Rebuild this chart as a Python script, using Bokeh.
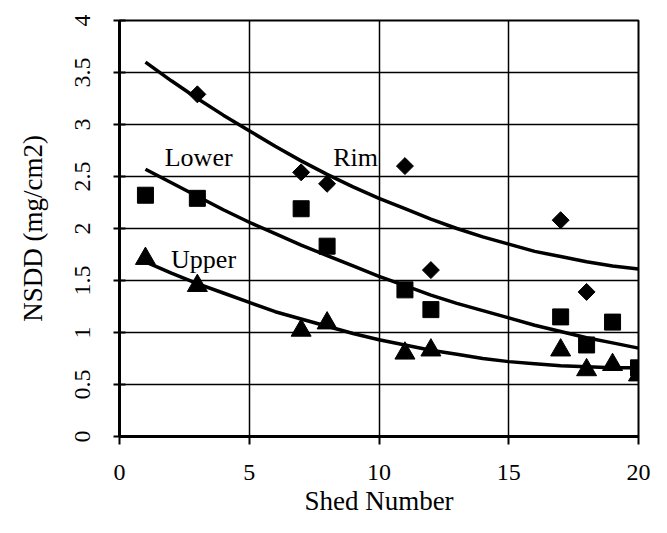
from bokeh.plotting import figure
from bokeh.models import Range1d, FixedTicker, NumeralTickFormatter, Label, Title
from bokeh.embed import file_html
from bokeh.resources import INLINE

# ---- data ----
shed_rim = [3, 7, 8, 11, 12, 17, 18]
rim = [3.29, 2.54, 2.43, 2.60, 1.60, 2.08, 1.39]

shed_lower = [1, 3, 7, 8, 11, 12, 17, 18, 19, 20]
lower = [2.32, 2.29, 2.19, 1.83, 1.41, 1.22, 1.15, 0.88, 1.10, 0.66]

shed_upper = [1, 3, 7, 8, 11, 12, 17, 18, 19, 20]
upper = [1.71, 1.45, 1.02, 1.09, 0.80, 0.83, 0.83, 0.64, 0.69, 0.59]

# trend curves (read at each shed number)
trend_x = list(range(1, 21))
rim_trend = [3.60, 3.42, 3.25, 3.09, 2.94, 2.79, 2.65, 2.52, 2.40, 2.29,
             2.19, 2.09, 2.00, 1.92, 1.85, 1.78, 1.73, 1.68, 1.64, 1.61]
lower_trend = [2.57, 2.44, 2.31, 2.18, 2.06, 1.95, 1.84, 1.74, 1.64, 1.54,
               1.45, 1.36, 1.28, 1.21, 1.14, 1.07, 1.01, 0.95, 0.90, 0.85]
upper_trend = [1.68, 1.57, 1.47, 1.38, 1.29, 1.20, 1.13, 1.06, 0.99, 0.93,
               0.88, 0.83, 0.79, 0.75, 0.72, 0.70, 0.68, 0.67, 0.66, 0.66]

x_ticks = [0, 5, 10, 15, 20]
y_ticks = [0, 0.5, 1, 1.5, 2, 2.5, 3, 3.5, 4]
x_title = "Shed Number"
y_title = "NSDD (mg/cm2)"

FONT = "Liberation Serif"

p = figure(width=651, height=517, output_backend="svg", toolbar_location=None,
           x_range=Range1d(0, 20), y_range=Range1d(0, 4),
           min_border_left=119, min_border_right=13,
           min_border_top=20, min_border_bottom=80)
p.background_fill_color = "white"
p.border_fill_color = "white"
p.outline_line_color = "black"
p.outline_line_width = 2

# grid
p.xgrid.ticker = FixedTicker(ticks=x_ticks)
p.ygrid.ticker = FixedTicker(ticks=y_ticks)
for g in (p.xgrid, p.ygrid):
    g.grid_line_color = "black"
    g.grid_line_width = 1.5
    g.grid_line_alpha = 1.0

# axes
xa = p.xaxis[0]
ya = p.yaxis[0]
xa.ticker = FixedTicker(ticks=x_ticks)
ya.ticker = FixedTicker(ticks=y_ticks)
ya.formatter = NumeralTickFormatter(format="0.[0]")
for a in (xa, ya):
    a.axis_line_color = "black"
    a.axis_line_width = 3
    a.major_tick_line_color = "black"
    a.major_tick_line_width = 2
    a.minor_tick_line_color = None
    a.major_label_text_font = FONT
    a.major_label_text_font_size = "24px"
    a.major_label_text_color = "black"
    a.axis_label_text_font = FONT
    a.axis_label_text_font_size = "27px"
    a.axis_label_text_font_style = "normal"
    a.axis_label_text_color = "black"

xa.major_tick_out = 8
xa.major_tick_in = 0
xa.major_label_standoff = 20

ya.axis_label = y_title
ya.major_tick_out = 6
ya.major_tick_in = 6
ya.major_label_orientation = "vertical"
ya.major_label_standoff = 24
ya.axis_label_standoff = 24

# x-axis title as a compact panel below the axis
p.add_layout(Title(text=x_title, align="center", text_font=FONT,
                   text_font_size="27px", text_font_style="normal",
                   text_color="black", standoff=3, offset=0), "below")

# trend lines
p.line(trend_x, rim_trend, line_color="black", line_width=3.5)
p.line(trend_x, lower_trend, line_color="black", line_width=3.5)
p.line(trend_x, upper_trend, line_color="black", line_width=3.5)

# markers
p.scatter(shed_rim, rim, marker="square", angle=0.785, size=12,
          fill_color="black", line_color="black")
p.scatter(shed_lower, lower, marker="square", size=16,
          fill_color="black", line_color="black")
p.scatter(shed_upper, upper, marker="triangle", size=20,
          fill_color="black", line_color="black")

# curve labels
for txt, x, y in [("Lower", 3.05, 2.68), ("Rim", 9.1, 2.68), ("Upper", 3.24, 1.70)]:
    p.add_layout(Label(x=x, y=y, text=txt, text_font=FONT, text_font_size="26px",
                       text_align="center", text_baseline="alphabetic",
                       text_color="black"))

open("out.html", "w").write(file_html(p, INLINE))
